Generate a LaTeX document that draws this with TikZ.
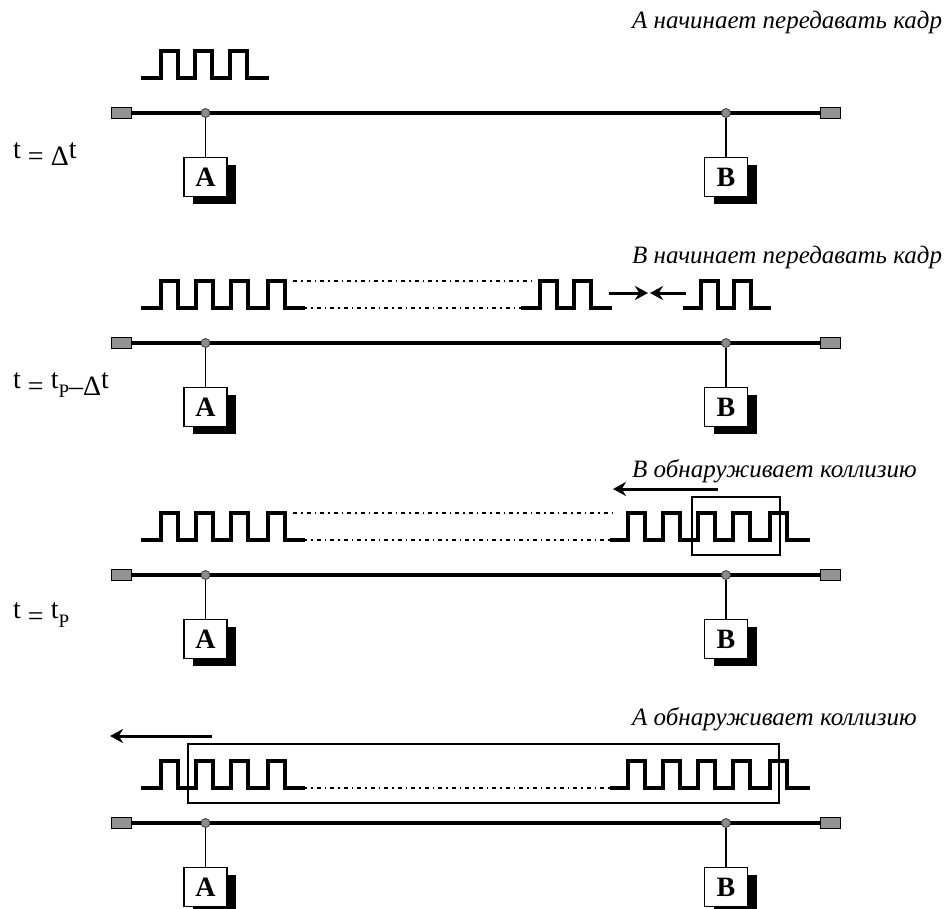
\documentclass[tikz,border=0pt]{standalone}
\usepackage{fontspec}
\setmainfont{Liberation Serif}
\usetikzlibrary{arrows.meta,shadows}
\newcommand\pulsetrain[4]{% #1 bus y, #2 start x, #3 rises, #4 end x
  \draw[pulse] (#2,#1-35) \foreach \rx in {#3}{ -- (\rx,#1-35) -- (\rx,#1-62) -- (\rx+17,#1-62) -- (\rx+17,#1-35)} -- (#4,#1-35);}
\begin{document}
\begin{tikzpicture}[x=1pt,y=-1pt,
  bus/.style={line width=3.4pt},
  term/.style={draw=black, line width=1pt, fill=gray!85, minimum width=20pt, minimum height=11pt, inner sep=0pt},
  junc/.style={circle, draw=black!75, fill=gray!90, line width=0.8pt, minimum size=9pt, inner sep=0pt},
  station/.style={draw=black, line width=1.5pt, fill=white, minimum width=43pt, minimum height=39pt, inner sep=0pt,
    font=\fontsize{28}{28}\selectfont\bfseries,
    drop shadow={shadow xshift=9pt, shadow yshift=-7pt, fill=black, opacity=1}},
  dropline/.style={line width=1.6pt},
  pulse/.style={line width=3.4pt, line join=miter, line cap=rect},
  dotline/.style={line width=1.2pt, dash pattern=on 4pt off 4pt on 1.5pt off 4pt},
  frame/.style={draw=black, line width=1.5pt},
  arr/.style={line width=3pt, -{Stealth[length=13pt,width=14pt]}},
  caption/.style={font=\fontsize{25}{25}\selectfont\itshape, anchor=base west, inner sep=0pt},
  tlabel/.style={font=\fontsize{28}{28}\selectfont, anchor=base west, inner sep=0pt}]
\useasboundingbox (0,0) rectangle (945,908);

% bus lines, stations
\foreach \i/\b in {1/113,2/343,3/575,4/823}{
  \node[term] (L\i) at (121,\b) {};
  \node[term] (R\i) at (830,\b) {};
  \draw[bus] (L\i.east) -- (R\i.west);
  \node[station] (A\i) at (205.5,\b+64) {A};
  \node[station] (B\i) at (726,\b+64) {B};
  \node[junc] (jA\i) at (205.5,\b) {};
  \node[junc] (jB\i) at (726,\b) {};
  \draw[dropline] (jA\i) -- (A\i);
  \draw[dropline] (jB\i) -- (B\i);
}

% panel 1
\node[caption] (c1) at (632,28) {А начинает передавать кадр};
\node[tlabel] (t1) at (13,165) {\raisebox{7pt}{t} = Δ\raisebox{7pt}{t}};
\pulsetrain{113}{143}{161,195,230}{267}

% panel 2
\node[caption] (c2) at (632,263) {В начинает передавать кадр};
\node[tlabel] (t2) at (13,395) {\raisebox{7pt}{t} = \raisebox{7pt}{t}\raisebox{-2pt}{\fontsize{19}{19}\selectfont P}–Δ\raisebox{7pt}{t}};
\pulsetrain{343}{143}{161,196,231,268}{303}
\draw[dotline] (293,281) -- (535,281);
\draw[dotline] (303,308) -- (523,308);
\pulsetrain{343}{523}{540,574}{610}
\pulsetrain{343}{685}{701,734}{769}
\coordinate (a2s) at (609,293);
\coordinate (a2e) at (648,293);
\coordinate (b2s) at (686,293);
\coordinate (b2e) at (650,293);
\draw[arr] (a2s) -- (a2e);
\draw[arr] (b2s) -- (b2e);

% panel 3
\node[caption] (c3) at (632,477) {В обнаруживает коллизию};
\node[tlabel] (t3) at (13,625) {\raisebox{7pt}{t} = \raisebox{7pt}{t}\raisebox{-2pt}{\fontsize{19}{19}\selectfont P}};
\pulsetrain{575}{143}{161,196,231,268}{303}
\draw[dotline] (293,513) -- (613,513);
\draw[dotline] (303,540) -- (612,540);
\pulsetrain{575}{612}{628,663,698,733,770}{808}
\node[frame, minimum width=88pt, minimum height=58pt, inner sep=0pt] (f3) at (736,526) {};
\coordinate (a3s) at (718,489);
\coordinate (a3e) at (613,489);
\draw[arr] (a3s) -- (a3e);

% panel 4
\node[caption] (c4) at (632,725) {А обнаруживает коллизию};
\pulsetrain{823}{143}{161,196,231,268}{303}
\draw[dotline] (303,788) -- (612,788);
\pulsetrain{823}{612}{628,663,698,733,770}{808}
\node[frame, minimum width=591pt, minimum height=59pt, inner sep=0pt] (f4) at (483.5,773.5) {};
\coordinate (a4s) at (212,736);
\coordinate (a4e) at (110,736);
\draw[arr] (a4s) -- (a4e);
\end{tikzpicture}
\end{document}
